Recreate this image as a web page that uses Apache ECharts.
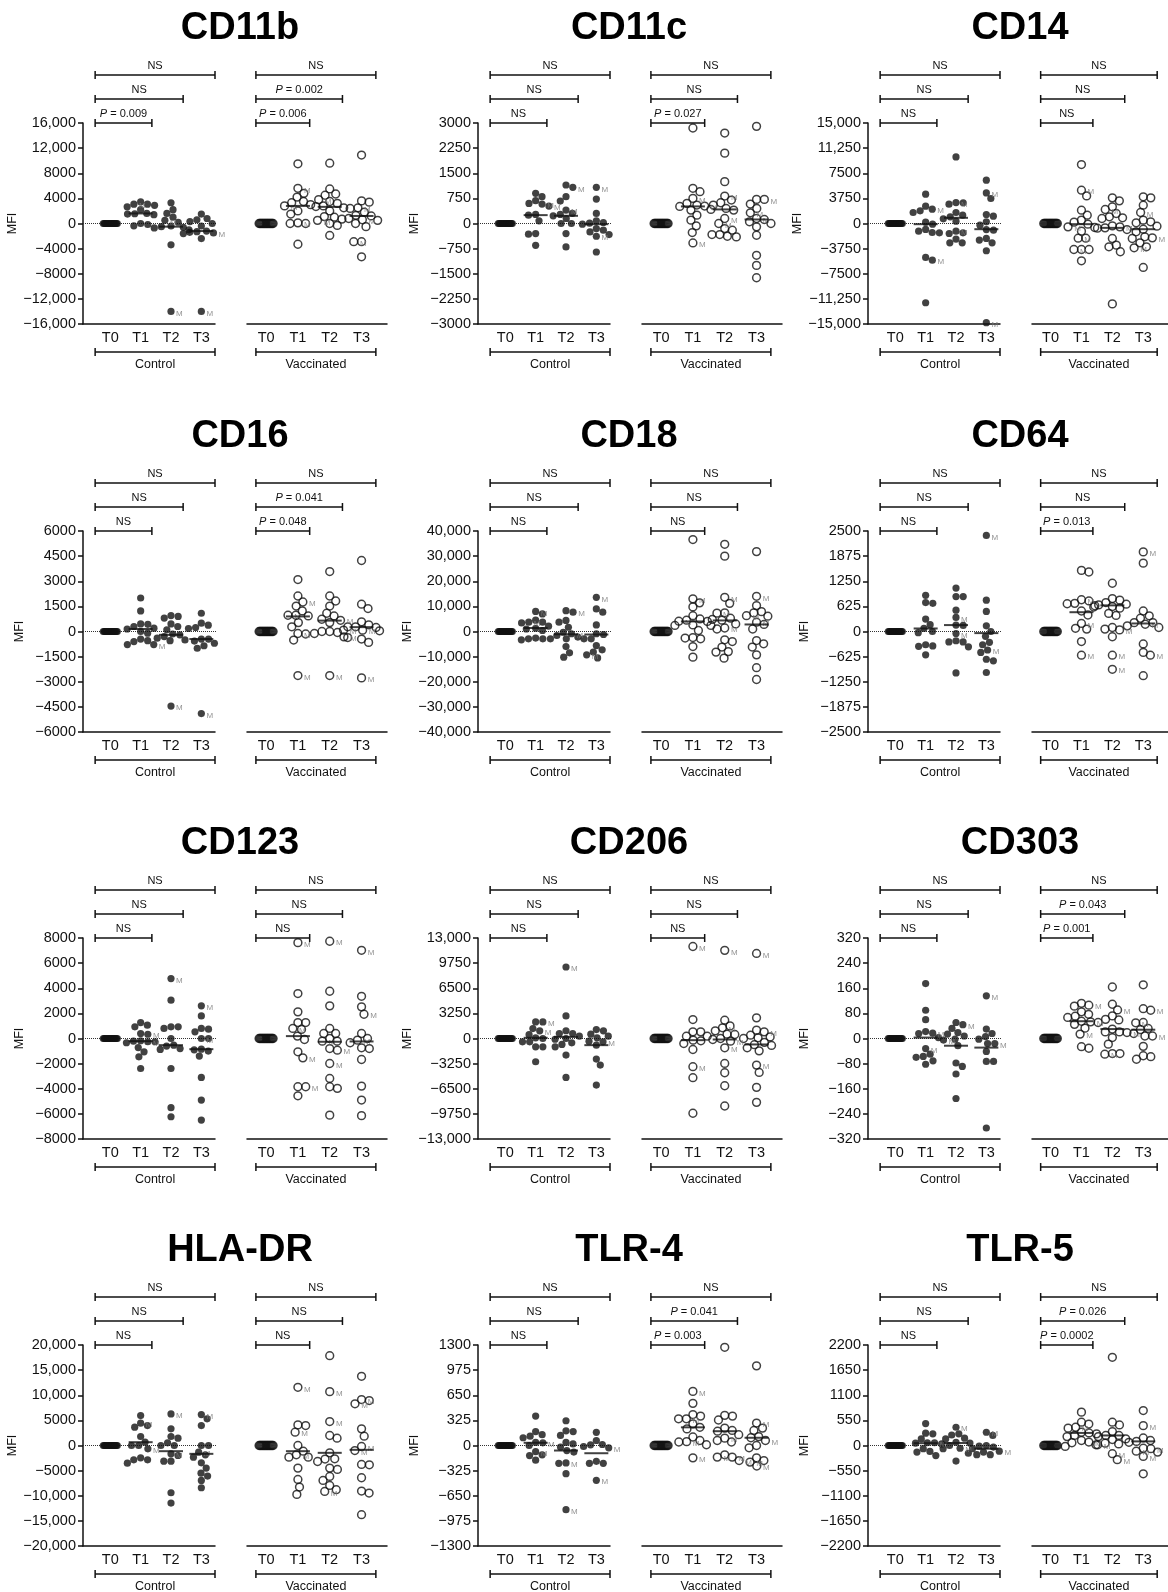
<!DOCTYPE html>
<html><head><meta charset="utf-8">
<script src="https://cdn.jsdelivr.net/npm/echarts@6/dist/echarts.min.js"></script>
<style>html,body{margin:0;padding:0;background:#fff}#c{width:1168px;height:1592px}</style>
</head><body><div id="c"></div>
<script>
// ---------- DATA ----------
const markers = ['CD11b','CD11c','CD14','CD16','CD18','CD64','CD123','CD206','CD303','HLA-DR','TLR-4','TLR-5'];
const yLimits = [16000, 3000, 15000, 6000, 40000, 2500, 8000, 13000, 320, 20000, 1300, 2200];
const timeLabels = ['T0','T1','T2','T3'];
const groupLabels = ['Control','Vaccinated'];
const t0Control = [0,0,0,0,0,0,0,0,0,0,0,0,0,0];
const t0Vaccinated = [0,0,0,0,0,0,0,0,0,0,0,0,0,0,0,0];

// values per time point T1,T2,T3 ; [v,'M'] marks an "M"-labelled animal
const cd11bCtrl = [[3450,3070,[3070,'M'],2900,2650,2200,1600,1550,1500,1400,0,-160,-370],
  [3300,2200,1600,1000,[500,'M'],200,-400,-500,-600,-700,-1000,-3400,[-14000,'M']],
  [1500,800,600,300,0,-400,-1200,-1300,-1400,[-1500,'M'],-1600,-2400,[-14000,'M']]];
const cd11bVacc = [[9500,[5600,'M'],4800,4200,3500,3300,3000,[2800,'M'],2700,2000,1500,[100,'M'],0,0,-3300],
  [9600,5500,4700,4500,[3800,'M'],3500,3200,2800,2500,2000,1100,1000,700,[500,'M'],0,-300,-1900],
  [10900,3600,3400,[2500,'M'],2400,1800,1300,1200,800,[600,'M'],500,0,-500,-2900,[-2900,'M'],-5300]];
const cd11bCtrlMed = [1600,-500,-1200], cd11bVaccMed = [2800,2650,1200];
const cd11bCtrlP = ['P = 0.009','NS','NS'], cd11bVaccP = ['P = 0.006','P = 0.002','NS'];

const cd11cCtrl = [[900,800,680,600,[580,'M'],[520,'M'],270,250,80,-300,-320,-650],
  [1150,[1080,'M'],800,670,[400,'M'],300,270,230,150,0,0,-300,-700],
  [[1080,'M'],730,300,80,30,10,-20,-150,-200,-250,-330,[-380,'M'],-850]];
const cd11cVacc = [[2850,1050,950,[750,'M'],600,550,[520,'M'],510,420,400,250,100,-70,-270,[-580,'M']],
  [2700,2100,1250,[820,'M'],700,620,550,450,400,[150,'M'],[0,'M'],-150,-200,-330,-330,-380,-400],
  [2900,720,[720,'M'],580,450,[320,'M'],[150,'M'],120,50,0,-100,-350,-950,-1250,-1620]];
const cd11cCtrlMed = [250,230,-20], cd11cVaccMed = [510,420,120];
const cd11cCtrlP = ['NS','NS','NS'], cd11cVaccP = ['P = 0.027','NS','NS'];

const cd14Ctrl = [[4370,2580,[2140,'M'],1890,1640,200,-100,-890,-1140,-1340,-1390,-5070,[-5470,'M'],-11830],
  [9940,[3130,'M'],3080,2880,1640,1240,1000,700,350,[-1140,'M'],-1390,-1490,-2330,-2880,-2880],
  [6460,[4570,'M'],3730,1340,1090,250,-250,-900,-1000,-2230,-2480,-2880,-4070,[-14800,'M']]];
const cd14Vacc = [[8800,[4970,'M'],4120,1990,1240,500,200,-100,[-500,'M'],-600,-1140,[-2190,'M'],-2190,-3880,-3880,[-3880,'M'],-5570],
  [3830,3380,2490,[2090,'M'],1490,1000,850,750,-350,[-500,'M'],-650,-700,-900,-2240,-3230,-3480,-4220,-12000],
  [3980,3830,2730,[1640,'M'],500,250,100,-400,-850,-1240,-1990,[-2140,'M'],-2240,-2880,-3480,[-3630,'M'],-6560]];
const cd14CtrlMed = [-100,850,-850], cd14VaccMed = [-100,-650,-850];
const cd14CtrlP = ['NS','NS','NS'], cd14VaccP = ['NS','NS','NS'];

const cd16Ctrl = [[2000,1230,450,430,300,200,150,0,-100,-450,-550,-600,[-780,'M'],-780],
  [950,900,800,450,300,100,-150,-200,-300,-400,-500,-550,[-4450,'M']],
  [1090,500,380,240,180,-450,-450,-570,-700,-850,-1000,[-4900,'M']]];
const cd16Vacc = [[3100,2120,[1760,'M'],1520,1230,970,[970,'M'],930,530,280,[-120,'M'],-150,-510,[-2630,'M']],
  [3580,2120,1820,1520,1090,930,730,[670,'M'],530,0,0,-60,-120,[-320,'M'],-360,[-2630,'M']],
  [4240,1630,1370,580,400,280,280,240,[80,'M'],[80,'M'],40,-450,-650,[-2770,'M']]];
const cd16CtrlMed = [150,-200,-450], cd16VaccMed = [900,650,260];
const cd16CtrlP = ['NS','NS','NS'], cd16VaccP = ['P = 0.048','P = 0.041','NS'];

const cd18Ctrl = [[[8000,'M'],7000,4500,[3700,'M'],3700,3400,2100,1300,1000,400,-2600,-2900,-2900,-3300],
  [8300,[7700,'M'],4400,3700,1700,-300,[-900,'M'],-1600,-2200,-2900,-2900,-6000,-8500,-10200],
  [[13600,'M'],9000,7700,2600,-900,-1200,-2900,-2900,-5600,-7300,-8200,[-9300,'M'],-10500]];
const cd18Vacc = [[36600,[13000,'M'],11400,9800,6300,5000,4500,[4100,'M'],4000,2600,2400,2400,400,-2400,-2600,-2900,-6000,-10200],
  [34700,30000,[13600,'M'],11200,7400,[7300,'M'],5300,4800,4500,3000,[1400,'M'],1000,-3300,-4000,-6200,-8000,-8200,-10600],
  [31800,[14000,'M'],10300,7900,7400,[6300,'M'],6100,[3700,'M'],2800,1000,-3600,-4900,-6200,-9300,-14400,-19100]];
const cd18CtrlMed = [1400,-1100,-1200], cd18VaccMed = [4000,4400,2800];
const cd18CtrlP = ['NS','NS','NS'], cd18VaccP = ['NS','NS','NS'];

const cd64Ctrl = [[900,720,700,310,170,80,0,-30,-330,-360,-370,-580],
  [1080,870,870,530,[350,'M'],160,150,[-50,'M'],-230,-260,-260,-380,-1030],
  [[2390,'M'],780,500,140,0,-120,-270,-330,[-460,'M'],-520,-690,-730,-1020]];
const cd64Vacc = [[1520,1480,[790,'M'],760,700,690,610,510,410,[200,'M'],80,60,-250,[-590,'M']],
  [1200,820,780,720,680,660,640,620,580,450,400,100,60,[40,'M'],-130,[-590,'M'],[-940,'M']],
  [[1980,'M'],1700,510,390,330,220,220,[180,'M'],140,100,-310,-520,[-590,'M'],-1100]];
const cd64CtrlMed = [75,160,-40], cd64VaccMed = [480,650,200];
const cd64CtrlP = ['NS','NS','NS'], cd64VaccP = ['P = 0.013','NS','NS'];

const cd123Ctrl = [[1270,1060,930,400,[340,'M'],-180,-210,[-260,'M'],-260,-340,-720,-1060,-1460,-2390],
  [[4770,'M'],3050,930,930,800,0,-530,-600,-800,-870,-2390,-5510,-6230],
  [[2600,'M'],1800,800,740,530,[0,'M'],0,-850,-900,-1000,-1400,-3100,-4900,-6490]];
const cd123Vacc = [[[7630,'M'],3580,2120,1270,1270,[800,'M'],720,190,-80,-1060,[-1540,'M'],-3840,[-3840,'M'],-4560],
  [[7740,'M'],3760,2600,800,400,400,0,-210,[-210,'M'],-800,[-930,'M'],[-1990,'M'],-3180,-3840,-3970,-6100],
  [[7020,'M'],3360,2520,[1930,'M'],400,0,[-130,'M'],-340,-740,-800,-1670,-3790,-4900,-6140]];
const cd123CtrlMed = [-210,-530,-850], cd123VaccMed = [190,-260,-235];
const cd123CtrlP = ['NS','NS','NS'], cd123VaccP = ['NS','NS','NS'];

const cd206Ctrl = [[2150,[2150,'M'],1290,[990,'M'],500,90,0,-430,-430,-1080,-1080,-3010],
  [[9250,'M'],2920,1000,650,650,300,0,-100,-560,-770,-1080,-2150,-5030],
  [1160,990,560,300,90,-340,[-430,'M'],-860,-2660,-3440,-6020]];
const cd206Vacc = [[[11900,'M'],2450,860,860,300,300,-215,-300,-650,-1420,[-3650,'M'],-5070,-9670],
  [[11400,'M'],2370,1630,[1380,'M'],990,560,520,0,-130,[-340,'M'],[-1200,'M'],-3230,-4430,-6110,-8730],
  [[11000,'M'],2670,1080,[860,'M'],430,210,90,0,-500,-800,-900,-1200,-1600,[-3440,'M'],-4390,-6320,-8260]];
const cd206CtrlMed = [90,200,-860], cd206VaccMed = [-215,-130,-770];
const cd206CtrlP = ['NS','NS','NS'], cd206VaccP = ['NS','NS','NS'];

const cd303Ctrl = [[175,90,60,22,[17,'M'],16,3,[-32,'M'],-50,-57,-60,-71,-82],
  [51,[44,'M'],32,19,14,8,-2,[-5,'M'],-23,-78,-89,-113,-191],
  [[136,'M'],30,16,6,-2,-16,[-16,'M'],-41,-73,-73,-285]];
const cd303Vacc = [[112,[106,'M'],103,85,77,71,67,55,[53,'M'],51,45,33,[14,'M'],-26,-31],
  [164,109,[91,'M'],72,61,59,30,21,21,[19,'M'],3,-18,-48,-48,[-50,'M']],
  [171,95,[90,'M'],51,[50,'M'],32,28,16,8,[8,'M'],-25,-55,-58,-66]];
const cd303CtrlMed = [3,-23,-29], cd303VaccMed = [55,30,28];
const cd303CtrlP = ['NS','NS','NS'], cd303VaccP = ['P = 0.001','P = 0.043','NS'];

const hlaCtrl = [[5960,[4440,'M'],3970,3640,1790,660,0,0,[-660,'M'],-2450,-2850,-2850,-3510],
  [[6290,'M'],3310,1790,1460,530,0,0,[-1660,'M'],-1990,-3110,-3110,-9400,-11450],
  [[6160,'M'],5300,3970,0,0,[-1330,'M'],-1850,-2320,-3440,-4500,-5500,-6090,-6950,-8410]];
const hlaVacc = [[[11580,'M'],4100,3970,[2650,'M'],0,-1130,[-1850,'M'],-2320,-2320,-4500,-6750,-8270,-9730],
  [17870,[10720,'M'],[4770,'M'],1990,1460,-1460,-2650,-2700,-3180,-4500,-4770,-6160,-6950,-7950,-8800,[-9140,'M']],
  [13770,[9140,'M'],8940,[8300,'M'],3310,1850,[-200,'M'],[-1000,'M'],-3770,-3840,-6420,-9070,-9470,-13770]];
const hlaCtrlMed = [660,-1130,-1660], hlaVaccMed = [-1130,-1460,-860];
const hlaCtrlP = ['NS','NS','NS'], hlaVaccP = ['NS','NS','NS'];

const tlr4Ctrl = [[380,180,140,120,100,40,[35,'M'],0,[-80,'M'],-120,-130,-190],
  [320,190,180,130,40,20,-20,-65,-85,[-225,'M'],-230,-365,[-830,'M']],
  [170,65,13,9,-13,[-30,'M'],-205,-230,-230,-230,[-450,'M']]];
const tlr4Vacc = [[[700,'M'],545,400,380,[345,'M'],345,280,235,215,110,65,[50,'M'],45,10,[-160,'M']],
  [1270,390,380,330,225,195,185,140,[95,'M'],65,45,-120,[-150,'M'],[-150,'M'],[-195,'M']],
  [1030,[290,'M'],225,195,115,100,[65,'M'],0,-30,-160,-195,[-215,'M'],[-265,'M']]];
const tlr4CtrlMed = [35,-65,-100], tlr4VaccMed = [235,185,100];
const tlr4CtrlP = ['NS','NS','NS'], tlr4VaccP = ['P = 0.003','P = 0.041','NS'];

const tlr5Ctrl = [[480,270,255,145,60,[60,'M'],50,35,-70,-130,-145,-220],
  [[400,'M'],255,230,160,145,70,55,0,[-60,'M'],-70,-340],
  [[290,'M'],220,0,-15,-35,-70,[-125,'M'],-145,-170,-200,-200]];
const tlr5Vacc = [[730,510,470,[400,'M'],380,290,275,255,220,195,110,[75,'M'],60,15,-20],
  [1930,510,450,305,220,220,195,145,130,50,35,[15,'M'],[-180,'M'],[-310,'M']],
  [765,[435,'M'],165,110,90,70,-60,[-70,'M'],[-125,'M'],-145,[-240,'M'],-620]];
const tlr5CtrlMed = [50,55,-70], tlr5VaccMed = [275,220,90];
const tlr5CtrlP = ['NS','NS','NS'], tlr5VaccP = ['P = 0.0002','P = 0.026','NS'];

// ---------- table built from the arrays ----------
const table = [
  [cd11bCtrl,cd11bVacc,cd11bCtrlMed,cd11bVaccMed,cd11bCtrlP,cd11bVaccP],
  [cd11cCtrl,cd11cVacc,cd11cCtrlMed,cd11cVaccMed,cd11cCtrlP,cd11cVaccP],
  [cd14Ctrl,cd14Vacc,cd14CtrlMed,cd14VaccMed,cd14CtrlP,cd14VaccP],
  [cd16Ctrl,cd16Vacc,cd16CtrlMed,cd16VaccMed,cd16CtrlP,cd16VaccP],
  [cd18Ctrl,cd18Vacc,cd18CtrlMed,cd18VaccMed,cd18CtrlP,cd18VaccP],
  [cd64Ctrl,cd64Vacc,cd64CtrlMed,cd64VaccMed,cd64CtrlP,cd64VaccP],
  [cd123Ctrl,cd123Vacc,cd123CtrlMed,cd123VaccMed,cd123CtrlP,cd123VaccP],
  [cd206Ctrl,cd206Vacc,cd206CtrlMed,cd206VaccMed,cd206CtrlP,cd206VaccP],
  [cd303Ctrl,cd303Vacc,cd303CtrlMed,cd303VaccMed,cd303CtrlP,cd303VaccP],
  [hlaCtrl,hlaVacc,hlaCtrlMed,hlaVaccMed,hlaCtrlP,hlaVaccP],
  [tlr4Ctrl,tlr4Vacc,tlr4CtrlMed,tlr4VaccMed,tlr4CtrlP,tlr4VaccP],
  [tlr5Ctrl,tlr5Vacc,tlr5CtrlMed,tlr5VaccMed,tlr5CtrlP,tlr5VaccP]
];

// ---------- layout ----------
const FF = '"Liberation Sans", Arial, Helvetica, sans-serif';
const COLS = [83, 478, 868];
const TITLE_X = [240, 629, 1020];
const ROWS = [123, 531, 938, 1345];
const PH = 201;
const INK = '#111';

function yFmt(v){
  const a = Math.abs(v);
  const s = a >= 10000 ? a.toLocaleString('en-US') : String(a);
  return (v < 0 ? '\u2212' : '') + s;
}

// deterministic beeswarm (pixel space) to avoid overlapping symbols
function swarm(vals, pxY, D, maxW){
  const n = vals.length, off = new Array(n).fill(0);
  if (!n) return off;
  if (vals.every(v => v === vals[0])) {
    for (let i = 0; i < n; i++) off[i] = n > 1 ? -7 + 14 * i / (n - 1) : 0;
    return off;
  }
  const order = vals.map((v,i)=>i).sort((a,b)=>vals[b]-vals[a]);
  const placed = [];
  for (const i of order) {
    const y = vals[i] * pxY;
    const c = [0];
    for (const p of placed) {
      const dy = y - p.y;
      if (Math.abs(dy) < D) { const dx = Math.sqrt(D*D - dy*dy); c.push(p.x + dx, p.x - dx); }
    }
    const ok = c.filter(x => placed.every(p => (x-p.x)*(x-p.x) + (y-p.y)*(y-p.y) >= D*D - 1e-6));
    const near = placed.filter(p => Math.abs(p.y - y) < 2*D);
    const L = near.filter(p => p.x < 0).length, R = near.filter(p => p.x > 0).length;
    ok.sort((a,b)=>{
      const d = Math.round((Math.abs(a)-Math.abs(b))*100);
      if (d) return d;
      return R <= L ? b - a : a - b;
    });
    let x = ok.length ? ok[0] : 0;
    if (Math.abs(x) > maxW) x = Math.sign(x) * maxW;
    placed.push({x, y}); off[i] = x;
  }
  return off;
}

const grids = [], xAxes = [], yAxes = [], series = [], graphics = [];
const axisLineStyle = {color: INK, width: 1.5};

table.forEach((row, p) => {
  const col = p % 3, r = Math.floor(p / 3);
  const X0 = COLS[col], top = ROWS[r], ymax = yLimits[p];
  graphics.push({type:'text', x: TITLE_X[col], y: top - 94, silent:true,
    style:{text: markers[p], font: 'bold 38px ' + FF, fill:'#000', align:'center', verticalAlign:'middle'}});
  for (let g = 0; g < 2; g++) {
    const gi = grids.length;
    const left = g === 0 ? X0 : X0 + 164;
    const width = g === 0 ? 132 : 140;
    const xmin = g === 0 ? -0.9 : -0.6, xmax = g === 0 ? 3.45 : 3.8;
    const pxX = width / (xmax - xmin), pxY = PH / (2 * ymax);
    grids.push({left, top, width, height: PH});
    xAxes.push({type:'value', gridIndex: gi, min: xmin, max: xmax,
      splitLine:{show:false}, axisTick:{show:false},
      axisLine:{show:true, onZero:false, lineStyle: axisLineStyle},
      axisLabel:{customValues:[0,1,2,3], formatter: v => timeLabels[Math.round(v)] || '',
        fontSize: 14.5, color: INK, margin: 6, fontFamily: FF}});
    yAxes.push({type:'value', gridIndex: gi, min: -ymax, max: ymax, interval: ymax / 4,
      show: g === 0, splitLine:{show:false},
      axisLine:{show:true, onZero:false, lineStyle: axisLineStyle},
      axisTick:{show:true, length:5, lineStyle: axisLineStyle},
      axisLabel:{formatter: yFmt, fontSize: 14.5, color: INK, margin: 7, fontFamily: FF},
      name: g === 0 ? 'MFI' : '', nameLocation:'middle', nameGap: 57,
      nameTextStyle:{fontSize: 12.5, color: INK, fontFamily: FF}});

    const groups = [g === 0 ? t0Control : t0Vaccinated].concat(g === 0 ? row[0] : row[1]);
    const meds = g === 0 ? row[2] : row[3];
    const pl = g === 0 ? row[4] : row[5];

    // dotted zero reference line (control grid, continues across the gap)
    if (g === 0) {
      series.push({type:'line', xAxisIndex: gi, yAxisIndex: gi, clip:false, symbol:'none', silent:true, z:1,
        lineStyle:{type:'dotted', color:'#333', width:1},
        data: [[xmin, 0], [xmin + 304 / pxX, 0]]});
    }
    // points
    const D = g === 0 ? 7.2 : 7.8;
    const pts = [];
    groups.forEach((arr, k) => {
      const vals = arr.map(d => Array.isArray(d) ? d[0] : d);
      const flags = arr.map(d => Array.isArray(d) && d[1] === 'M');
      const off = swarm(vals, pxY, D, 18);
      vals.forEach((v, i) => {
        const item = {value: [k + off[i] / pxX, v]};
        if (flags[i]) item.label = {show: true};
        pts.push(item);
      });
    });
    series.push({type:'scatter', xAxisIndex: gi, yAxisIndex: gi, silent:true, z:3,
      symbol:'circle', symbolSize: g === 0 ? 7.2 : 7.8,
      itemStyle: g === 0 ? {color: INK} : {color:'rgba(255,255,255,0)', borderColor: INK, borderWidth: 1.5},
      label:{show:false, formatter:'M', position:'right', distance:1.5, offset:[0,2], fontSize:8, color:'#777', fontFamily: FF},
      data: pts});
    // median bars
    series.push({type:'scatter', xAxisIndex: gi, yAxisIndex: gi, silent:true, z:4,
      symbol:'rect', symbolSize:[24, 2], itemStyle:{color: INK},
      data: meds.map((m, k) => [k + 1, m])});
    // significance brackets + group bracket
    const startX = g === 0 ? -0.5 : -0.32;
    const ends = [1.37, 2.4, 3.45];
    series.push({type:'custom', xAxisIndex: gi, yAxisIndex: gi, silent:true, z:5, clip:false,
      data: [[0,0],[1,0],[2,0],[3,0]],
      renderItem: (params, api) => {
        const k = params.dataIndex;
        const yTop = api.coord([0, ymax])[1], yBot = api.coord([0, -ymax])[1];
        const x1 = api.coord([startX, 0])[0];
        const x2 = api.coord([k < 3 ? ends[k] : 3.45, 0])[0];
        const y = k < 3 ? yTop - k * 24 : yBot + 28;
        const st = {stroke: INK, lineWidth: 1.5};
        let txt, tst;
        if (k < 3) {
          const s = pl[k];
          txt = s.charAt(0) === 'P' ? '{i|P}' + s.slice(1) : s;
          tst = {text: txt, fontSize: 11, fontFamily: FF, fill: INK, align:'center', verticalAlign:'bottom',
            rich:{i:{fontStyle:'italic', fontSize:11, fontFamily: FF, fill: INK}}};
        } else {
          tst = {text: groupLabels[g], fontSize: 12.5, fontFamily: FF, fill: INK, align:'center', verticalAlign:'top'};
        }
        return {type:'group', children:[
          {type:'line', shape:{x1, y1:y, x2, y2:y}, style: st},
          {type:'line', shape:{x1, y1:y-4, x2:x1, y2:y+4}, style: st},
          {type:'line', shape:{x1:x2, y1:y-4, x2:x2, y2:y+4}, style: st},
          {type:'text', x:(x1+x2)/2, y: k < 3 ? y - 4 : y + 6, style: tst}
        ]};
      }});
  }
});

const chart = echarts.init(document.getElementById('c'), null, {renderer:'canvas'});
chart.setOption({
  backgroundColor:'#fff', animation:false,
  grid: grids, xAxis: xAxes, yAxis: yAxes, series, graphic: graphics
});
</script></body></html>
